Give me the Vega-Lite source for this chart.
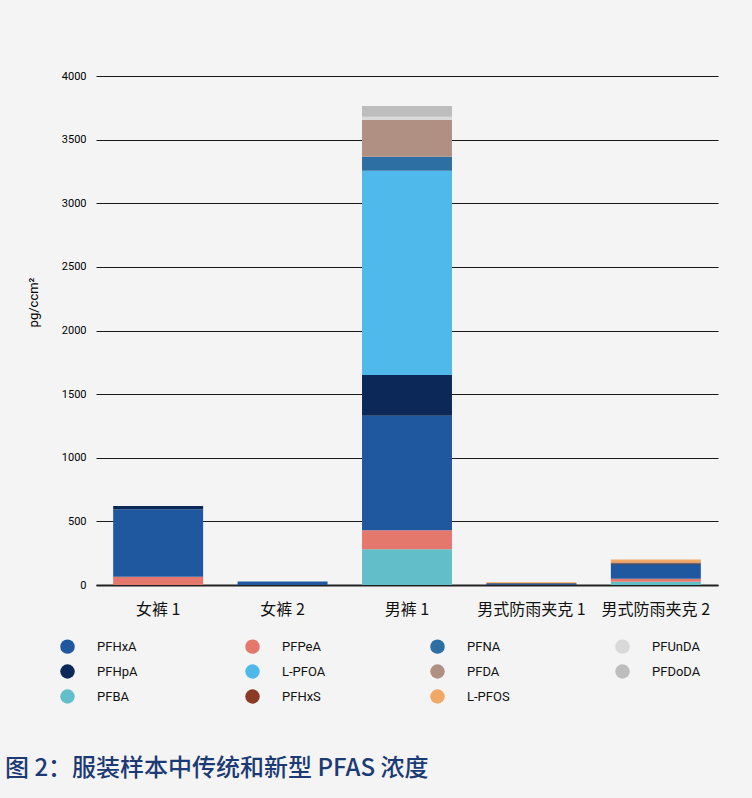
{
  "$schema": "https://vega.github.io/schema/vega-lite/v6.json",
  "autosize": {"type": "none"},
  "width": 622,
  "height": 509,
  "padding": {"left": 96, "top": 76, "right": 34, "bottom": 213},
  "background": "#f4f4f4",
  "title": {
    "text": "图 2：服装样本中传统和新型 PFAS 浓度",
    "orient": "bottom",
    "anchor": "start",
    "frame": "group",
    "dx": -91,
    "offset": 53,
    "font": "Noto Sans CJK SC",
    "fontSize": 24,
    "fontWeight": 500,
    "color": "#1c3a73"
  },
  "data": {
    "values": [
      {"sample": "女裤 1", "compound": "PFPeA", "rank": 2, "value": 65},
      {"sample": "女裤 1", "compound": "PFHxA", "rank": 3, "value": 530},
      {"sample": "女裤 1", "compound": "PFHpA", "rank": 4, "value": 25},
      {"sample": "女裤 2", "compound": "PFHxA", "rank": 3, "value": 28},
      {"sample": "男裤 1", "compound": "PFBA", "rank": 1, "value": 280},
      {"sample": "男裤 1", "compound": "PFPeA", "rank": 2, "value": 150},
      {"sample": "男裤 1", "compound": "PFHxA", "rank": 3, "value": 900},
      {"sample": "男裤 1", "compound": "PFHpA", "rank": 4, "value": 320},
      {"sample": "男裤 1", "compound": "L-PFOA", "rank": 5, "value": 1605},
      {"sample": "男裤 1", "compound": "PFNA", "rank": 6, "value": 110},
      {"sample": "男裤 1", "compound": "PFDA", "rank": 7, "value": 290},
      {"sample": "男裤 1", "compound": "PFUnDA", "rank": 8, "value": 25},
      {"sample": "男裤 1", "compound": "PFDoDA", "rank": 9, "value": 85},
      {"sample": "男式防雨夹克 1", "compound": "PFHxA", "rank": 3, "value": 6},
      {"sample": "男式防雨夹克 1", "compound": "PFHpA", "rank": 4, "value": 8},
      {"sample": "男式防雨夹克 1", "compound": "L-PFOS", "rank": 11, "value": 8},
      {"sample": "男式防雨夹克 2", "compound": "PFBA", "rank": 1, "value": 25},
      {"sample": "男式防雨夹克 2", "compound": "PFPeA", "rank": 2, "value": 25},
      {"sample": "男式防雨夹克 2", "compound": "PFHxA", "rank": 3, "value": 110},
      {"sample": "男式防雨夹克 2", "compound": "PFHpA", "rank": 4, "value": 8},
      {"sample": "男式防雨夹克 2", "compound": "PFHxS", "rank": 10, "value": 8},
      {"sample": "男式防雨夹克 2", "compound": "L-PFOS", "rank": 11, "value": 25}
    ]
  },
  "mark": {"type": "bar"},
  "encoding": {
    "x": {
      "field": "sample",
      "type": "nominal",
      "sort": null,
      "title": null,
      "scale": {"paddingInner": 0.277, "paddingOuter": 0.138},
      "axis": {
        "labelAngle": 0,
        "labelFont": "Noto Sans CJK SC",
        "labelFontSize": 16,
        "labelColor": "#111111",
        "labelPadding": 16,
        "ticks": false,
        "domainColor": "#222222",
        "domainWidth": 2
      }
    },
    "y": {
      "field": "value",
      "type": "quantitative",
      "stack": "zero",
      "title": "pg/ccm²",
      "scale": {"domain": [0, 4000], "nice": false},
      "axis": {
        "values": [0, 500, 1000, 1500, 2000, 2500, 3000, 3500, 4000],
        "format": "d",
        "labelFont": "Roboto",
        "labelFontSize": 11,
        "labelColor": "#000000",
        "labelPadding": 10,
        "ticks": false,
        "domain": false,
        "gridColor": "#1a1a1a",
        "gridWidth": 1,
        "gridOpacity": 1,
        "titleFont": "Roboto",
        "titleFontSize": 13,
        "titleFontWeight": "normal",
        "titleColor": "#000000",
        "titleAngle": -90,
        "titleAlign": "center",
        "titleBaseline": "middle",
        "titleX": -63,
        "titleY": 226
      }
    },
    "order": {"field": "rank", "type": "quantitative", "sort": "ascending"},
    "color": {
      "field": "compound",
      "type": "nominal",
      "scale": {
        "domain": ["PFHxA", "PFHpA", "PFBA", "PFPeA", "L-PFOA", "PFHxS", "PFNA", "PFDA", "L-PFOS", "PFUnDA", "PFDoDA"],
        "range": ["#2058a0", "#0b2858", "#62bfca", "#e5786d", "#50b9ec", "#8b3a25", "#2e6fa3", "#b09083", "#f0a864", "#d9d9d9", "#bdbdbd"]
      },
      "legend": {
        "orient": "none",
        "legendX": -36,
        "legendY": 563,
        "title": null,
        "columns": 4,
        "gridAlign": "all",
        "columnPadding": 99,
        "rowPadding": 10,
        "padding": 0,
        "symbolType": "circle",
        "symbolSize": 210,
        "symbolStrokeWidth": 0,
        "symbolOpacity": 1,
        "labelOffset": 22,
        "labelFont": "Roboto",
        "labelFontSize": 13,
        "labelColor": "#111111"
      }
    }
  },
  "config": {
    "view": {"stroke": null},
    "font": "Roboto"
  }
}
